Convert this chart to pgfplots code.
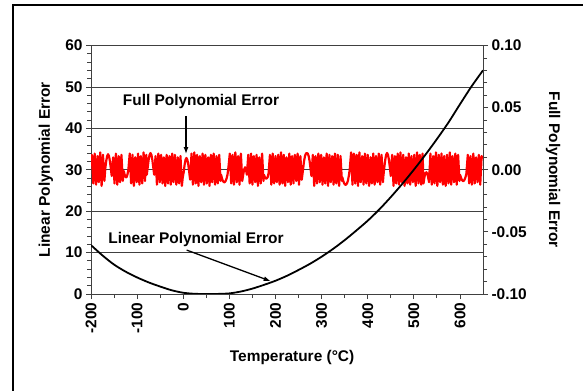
\documentclass[border=0pt]{standalone}
\usepackage{fontspec}
\setmainfont{Liberation Sans}
\usepackage{pgfplots}
\pgfplotsset{compat=1.18}
\usetikzlibrary{arrows.meta}
\newcommand{\lbl}{\fontsize{15.5}{18}\selectfont\bfseries}
\begin{document}
\begin{tikzpicture}
\pgfplotsset{
  base/.style={
    scale only axis, width=392bp, height=248.5bp,
    at={(91bp,97bp)}, anchor=south west,
    xmin=-200, xmax=650,
    tick align=outside,
    major tick length=5bp, minor tick length=4bp,
    every tick/.style={black!75, line width=0.8bp},
    axis line style={black!75, line width=1bp},
    tick label style={font=\lbl},
    label style={font=\lbl},
    /pgf/number format/assume math mode=true,
  }
}
% left axis, grid and frame
\begin{axis}[base,
  ymin=0, ymax=60, ytick={0,10,20,30,40,50,60}, minor y tick num=4,
  xtick={-200,-100,0,100,200,300,400,500,600}, minor x tick num=1,
  xtick pos=left, ytick pos=left,
  ymajorgrids, major grid style={black!75, line width=0.8bp},
  xticklabel style={rotate=90, anchor=east},
  xlabel={Temperature (°C)}, ylabel={Linear Polynomial Error},
  xlabel style={at={(axis description cs:0.513,-0.255)}, anchor=center},
  ylabel style={at={(axis description cs:-0.115,0.5)}, anchor=center},
]
\end{axis}
% right axis: full polynomial error
\begin{axis}[base,
  ymin=-0.1, ymax=0.1, ytick={-0.1,-0.05,0,0.05,0.1}, minor y tick num=4,
  axis x line=none, axis y line*=right,
  yticklabel style={/pgf/number format/.cd, fixed, fixed zerofill, precision=2},
  ylabel={Full Polynomial Error},
  ylabel style={at={(axis description cs:1.179,0.5)}, anchor=center, rotate=180},
]
\addplot[color=red, line width=2.2bp, line join=round] coordinates {
(-200,0.003) (-198,0.012) (-195,-0.011) (-192,0.013) (-189,-0.012) (-186,0.011) (-183,-0.010) (-180,0.014) (-177,-0.013) (-174,0.012) (-171,-0.009)
(-169,0.001) (-167,0.007) (-165,0.011) (-163,0.0125) (-161,0.011) (-159,0.007) (-157,0.001) (-155,-0.005)
(-152,0.010) (-149,-0.011) (-146,0.013) (-143,-0.012) (-140,0.011) (-137,-0.010) (-134,0.012) (-131,-0.009)
(-129,-0.001) (-127,-0.004) (-125,-0.006) (-123,-0.006) (-121,-0.004) (-119,0.000)
(-116,0.013) (-113,-0.011) (-110,0.012) (-107,-0.013) (-104,0.010) (-101,-0.010) (-98,0.013) (-95,-0.012) (-92,0.011) (-89,-0.011) (-86,0.014) (-83,-0.009) (-80,0.012)
(-79,-0.004) (-77,0.002) (-75,0.008) (-73,0.012) (-71,0.0135) (-69,0.012) (-67,0.008) (-65,0.002) (-63,-0.004)
(-60,0.011) (-57,-0.012) (-54,0.013) (-51,-0.010) (-48,0.012) (-45,-0.011) (-42,0.010) (-39,-0.013) (-36,0.012) (-33,-0.011) (-30,0.011) (-27,-0.012) (-24,0.013) (-21,-0.010) (-18,0.012) (-15,-0.012) (-12,0.010) (-9,-0.011) (-6,0.011) (-3,-0.013)
(-1,-0.006) (1,-0.002) (3,0.004) (5,0.008) (7,0.0095) (9,0.008) (11,0.004) (13,-0.002) (15,-0.008)
(18,0.013) (21,-0.012) (24,0.014) (27,-0.011) (30,0.012) (33,-0.013) (36,0.011) (39,-0.010) (42,0.013) (45,-0.012) (48,0.012) (51,-0.011) (54,0.010) (57,-0.013) (60,0.012) (63,-0.010) (66,0.013) (69,-0.012) (72,0.011) (75,-0.011) (78,0.012) (81,-0.009)
(82,-0.004) (84,-0.007) (86,-0.009) (88,-0.010) (90,-0.010) (92,-0.009) (94,-0.007) (96,-0.004) (98,0.002)
(101,0.013) (104,-0.011) (107,0.012) (110,-0.012) (113,0.014) (116,-0.010) (119,0.011) (122,-0.012) (125,0.013) (128,-0.009)
(130,-0.004) (132,0.000) (134,0.002) (136,0.000) (138,-0.004)
(141,0.012) (144,-0.011) (147,0.013) (150,-0.012) (153,0.011) (156,-0.010) (159,0.012) (162,-0.013) (165,0.010) (168,-0.011) (171,0.013) (174,-0.009)
(175,-0.004) (177,-0.006) (179,-0.007) (181,-0.007) (183,-0.006) (185,-0.003)
(188,0.012) (191,-0.012) (194,0.013) (197,-0.011) (200,0.011) (203,-0.010) (206,0.012) (209,-0.012) (212,0.014) (215,-0.011) (218,0.012) (221,-0.013) (224,0.010) (227,-0.010) (230,0.013) (233,-0.012) (236,0.011) (239,-0.011) (242,0.012) (245,-0.009) (248,0.013) (251,-0.012) (254,0.011) (257,-0.008)
(258,-0.005) (260,0.001) (262,0.007) (264,0.011) (266,0.013) (268,0.0135) (270,0.013) (272,0.011) (274,0.007) (276,0.001) (278,-0.005)
(281,0.012) (284,-0.013) (287,0.011) (290,-0.011) (293,0.013) (296,-0.010) (299,0.012) (302,-0.012) (305,0.010) (308,-0.011) (311,0.013) (314,-0.013) (317,0.012) (320,-0.010) (323,0.011) (326,-0.012) (329,0.013) (332,-0.011) (335,0.012) (338,-0.013) (341,0.011) (344,-0.009)
(345,-0.006) (347,-0.009) (349,-0.011) (351,-0.012) (353,-0.012) (355,-0.011) (357,-0.009) (359,-0.005) (361,0.000)
(364,0.014) (367,-0.012) (370,0.013) (373,-0.011) (376,0.012) (379,-0.013) (382,0.014) (385,-0.010) (388,0.011) (391,-0.012) (394,0.013) (397,-0.011) (400,0.012) (403,-0.013) (406,0.010) (409,-0.011) (412,0.013) (415,-0.012) (418,0.011) (421,-0.010) (424,0.013) (427,-0.012) (430,0.012) (433,-0.010)
(434,-0.005) (436,0.002) (438,0.008) (440,0.012) (442,0.0135) (444,0.012) (446,0.008) (448,0.002) (450,-0.005)
(453,0.012) (456,-0.013) (459,0.011) (462,-0.011) (465,0.013) (468,-0.012) (471,0.014) (474,-0.010) (477,0.012) (480,-0.013) (483,0.010) (486,-0.011) (489,0.013) (492,-0.012) (495,0.011) (498,-0.010) (501,0.012) (504,-0.013) (507,0.014) (510,-0.011) (513,0.012) (516,-0.012) (519,0.013)
(521,-0.011) (523,-0.006) (525,-0.003) (527,-0.002) (529,-0.003) (531,-0.006) (533,-0.010)
(536,0.013) (539,-0.012) (542,0.011) (545,-0.011) (548,0.014) (551,-0.013) (554,0.012) (557,-0.010) (560,0.013) (563,-0.012) (566,0.011) (569,-0.013) (572,0.012) (575,-0.011) (578,0.014) (581,-0.012) (584,0.011) (587,-0.010) (590,0.013) (593,-0.012) (596,0.012) (599,-0.009)
(600,-0.004) (602,-0.006) (604,-0.008) (606,-0.009) (608,-0.009) (610,-0.008) (612,-0.006) (614,-0.003)
(617,0.012) (620,-0.011) (623,0.011) (626,-0.012) (629,0.013) (632,-0.011) (635,0.010) (638,-0.010) (641,0.012) (644,-0.012) (647,0.011) (650,0.009)
};
\end{axis}
% linear polynomial error on top
\begin{axis}[base, ymin=0, ymax=60, hide axis]
\addplot[black, line width=1.8bp, smooth] coordinates {
(-200,11.8) (-175,9.3) (-150,7.1) (-125,5.4) (-100,4.0) (-75,2.8) (-50,1.8) (-25,0.9) (0,0.3) (25,0.05) (50,0) (75,0.02) (100,0.15) (125,0.6) (150,1.3) (175,2.2) (200,3.2) (225,4.4) (250,5.8) (275,7.3) (300,9.0) (325,10.9) (350,13.0) (375,15.3) (400,17.7) (425,20.4) (450,23.4) (475,26.6) (500,30.0) (525,33.6) (550,37.4) (575,41.4) (600,45.8) (625,50.1) (650,54.0)
};
\node[font=\lbl, anchor=base west, inner sep=0pt] at (axis cs:-131.3,45.4) {Full Polynomial Error};
\draw[line width=1.3bp, -{Latex[length=7bp,width=5bp]}] (axis cs:6,43) -- (axis cs:6,33.8);
\node[font=\lbl, anchor=base west, inner sep=0pt] at (axis cs:-162.5,12.2) {Linear Polynomial Error};
\draw[line width=1.3bp, -{Latex[length=7bp,width=5bp]}] (axis cs:7.5,10.6) -- (axis cs:189.6,3.1);
\end{axis}
\draw[line width=2bp] (13bp,-20bp) -- (13bp,386bp) -- (620bp,386bp);
\pgfresetboundingbox
\path (0,0) rectangle (583bp,391bp);
\end{tikzpicture}
\end{document}
